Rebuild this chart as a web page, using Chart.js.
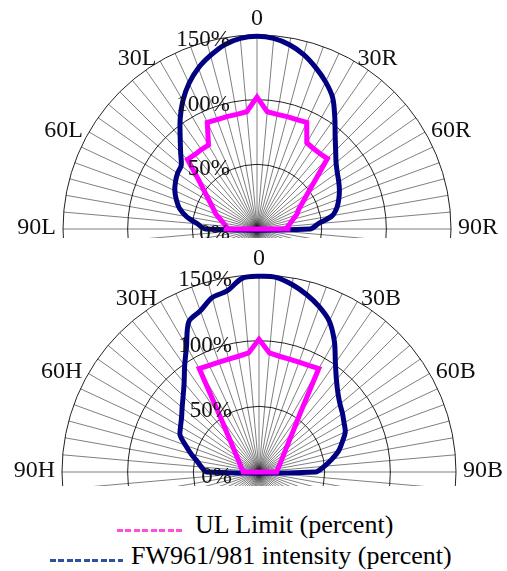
<!DOCTYPE html>
<html>
<head>
<meta charset="utf-8">
<script src="https://cdn.jsdelivr.net/npm/chart.js@4.4.1/dist/chart.umd.min.js"></script>
<style>
  body { margin: 0; background: #fff; }
  #page { position: relative; width: 507px; height: 571px; overflow: hidden; font-family: "Liberation Serif", "DejaVu Serif", serif; }
  .panel { position: absolute; left: 0; width: 507px; overflow: hidden; }
  #topPanel { top: 0; height: 238px; }
  #bottomPanel { top: 240px; height: 246px; }
  .legendRow { position: absolute; font-size: 26px; line-height: 30px; color: #000; white-space: nowrap; }
  .dash { position: absolute; height: 3px; }
</style>
</head>
<body>
<div id="page">
  <div class="panel" id="topPanel"><canvas id="topChart" width="507" height="459"></canvas></div>
  <div class="panel" id="bottomPanel"><canvas id="bottomChart" width="507" height="464"></canvas></div>

  <div class="dash" style="left:117px; top:529px; width:68px; background: repeating-linear-gradient(to right, #ff4fd8 0 6px, transparent 6px 8.5px);"></div>
  <div class="legendRow" style="left:195px; top:510px;">UL Limit (percent)</div>
  <div class="dash" style="left:50px; top:559px; width:73px; background: repeating-linear-gradient(to right, #2f4f9f 0 6px, transparent 6px 8.5px);"></div>
  <div class="legendRow" style="left:131px; top:541px;">FW961/981 intensity (percent)</div>
</div>

<script>
// angles from the vertical, every 5 degrees (0 .. 90)
const angleSteps = [0, 5, 10, 15, 20, 25, 30, 35, 40, 45, 50, 55, 60, 65, 70, 75, 80, 85, 90];
const shownAngles = [0, 30, 60, 90];
const tickValues = [0, 50, 100, 150];
const tickLabels = ['0%', '50%', '100%', '150%'];

// upper plot (L / R)
const ulTopLeft  = [102, 91, 90, 90, 90, 91, 75, 75, 75, 76, 58.8, 49, 42.2, 37.3, 33.9, 29.5, 26.3, 23.9, 23.9];
const ulTopRight = [102, 91, 90, 90, 90, 91, 77, 76, 76, 77, 58.7, 47.8, 40.6, 35.5, 32.7, 28.9, 26.1, 23.9, 23.9];
const fwTopLeft  = [149, 148, 144.6, 138.9, 132.5, 124.3, 114.6, 103.6, 92.4, 83.5, 76.5, 75, 72.8, 70.1, 66.4, 62.1, 55.3, 46.2, 40];
const fwTopRight = [149, 148, 144.7, 139.6, 132.8, 125.5, 117.1, 104.9, 94, 86, 79.8, 75.8, 73, 70.3, 67.3, 64, 59, 47.6, 41];

// lower plot (H / B)
const ulBottomLeft  = [101, 91, 89.5, 89, 89, 89.5, 91, 51.6, 37, 29, 24, 20.6, 18.2, 16.4, 15, 14.4, 13.1, 12.4, 12];
const ulBottomRight = [101, 91, 89.5, 89, 89, 89.5, 91, 55, 40.2, 31.8, 26.5, 22.9, 20.3, 18.3, 16.8, 15.6, 14.7, 14, 13.5];
const fwBottomLeft  = [149, 148, 140, 137.5, 130.6, 126.4, 110.4, 98.7, 88.7, 81.7, 76.4, 72, 69, 66.3, 59.5, 53.6, 47.9, 44, 39.7];
const fwBottomRight = [149, 148.8, 145, 139.9, 134, 126.7, 114.8, 101.4, 91.7, 85, 80.5, 77.6, 74.8, 72.5, 67.6, 62.9, 56.4, 50, 42.8];

const STEP = 5;
const COUNT = 360 / STEP; // radar spokes all round, the lower half is hidden

// radar index i runs clockwise from the top
function sideOf(i) {
  const deg = i * STEP;
  if (deg <= 90) return { side: 1, angle: deg };
  if (deg >= 270) return { side: -1, angle: 360 - deg };
  return null;
}

function buildLabels(leftName, rightName) {
  const out = [];
  for (let i = 0; i < COUNT; i++) {
    const s = sideOf(i);
    if (!s) { out.push(''); continue; }
    if (s.angle === 0) out.push('0');
    else out.push(s.angle + (s.side > 0 ? rightName : leftName));
  }
  return out;
}

function buildData(left, right) {
  const out = [];
  for (let i = 0; i < COUNT; i++) {
    const s = sideOf(i);
    if (!s) { out.push(null); continue; }
    const k = angleSteps.indexOf(s.angle);
    out.push(s.side > 0 ? right[k] : left[k]);
  }
  return out;
}

// tick labels and direction labels
const polarText = {
  id: 'polarText',
  afterDatasetsDraw(chart) {
    const scale = chart.scales.r;
    const ctx = chart.ctx;
    const R = scale.drawingArea;
    ctx.save();
    ctx.fillStyle = '#111';

    ctx.font = '23px "Liberation Serif"';
    ctx.textAlign = 'right';
    ctx.textBaseline = 'middle';
    tickValues.forEach((v, k) => {
      const d = scale.getDistanceFromCenterForValue(v);
      ctx.fillText(tickLabels[k], scale.xCenter - 27, scale.yCenter - d + 5);
    });

    ctx.font = '24px "Liberation Serif"';
    chart.data.labels.forEach((txt, i) => {
      const s = sideOf(i);
      if (!s || shownAngles.indexOf(s.angle) < 0) return;
      if (s.angle === 0) {
        ctx.textAlign = 'center';
        ctx.fillText(txt, scale.xCenter, scale.yCenter - R - 16);
        return;
      }
      const pos = scale.getPointPosition(i, R + 7);
      ctx.textAlign = s.side > 0 ? 'left' : 'right';
      const dy = 4 * Math.cos(s.angle * Math.PI / 180) - (s.angle === 90 ? 1 : 0);
      ctx.fillText(txt, pos.x, pos.y + dy);
    });
    ctx.restore();
  }
};

function makePolar(canvasId, labels, ulData, fwData, pad) {
  return new Chart(document.getElementById(canvasId), {
    type: 'radar',
    data: {
      labels: labels,
      datasets: [{
        label: 'UL Limit (percent)',
        data: ulData,
        borderColor: '#ff00ff',
        borderWidth: 5,
        borderJoinStyle: 'miter',
        tension: 0,
        spanGaps: true,
        fill: false,
        pointRadius: 0,
        clip: false
      }, {
        label: 'FW961/981 intensity (percent)',
        data: fwData,
        borderColor: '#000080',
        borderWidth: 5,
        borderJoinStyle: 'round',
        tension: 0.3,
        spanGaps: true,
        fill: false,
        pointRadius: 0,
        clip: false
      }]
    },
    options: {
      responsive: false,
      animation: false,
      layout: { padding: pad },
      plugins: { legend: { display: false }, tooltip: { enabled: false } },
      scales: {
        r: {
          min: 0,
          max: 150,
          ticks: { stepSize: 50, display: false },
          pointLabels: { display: false },
          grid: { circular: true, color: '#222', lineWidth: 1 },
          angleLines: { color: 'rgba(0,0,0,0.5)', lineWidth: 1 }
        }
      }
    },
    plugins: [polarText]
  });
}

makePolar('topChart', buildLabels('L', 'R'),
  buildData(ulTopLeft, ulTopRight), buildData(fwTopLeft, fwTopRight),
  { left: 63, right: 55, top: 35, bottom: 35 });

makePolar('bottomChart', buildLabels('H', 'B'),
  buildData(ulBottomLeft, ulBottomRight), buildData(fwBottomLeft, fwBottomRight),
  { left: 62, right: 51, top: 35, bottom: 35 });
</script>
</body>
</html>
